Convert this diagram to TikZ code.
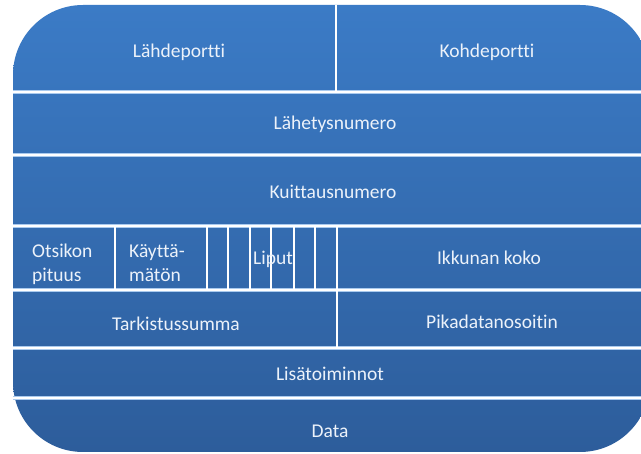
\documentclass[tikz,border=0pt]{standalone}
\usepackage{fontspec}
\setmainfont[Ligatures={NoCommon,NoRare}]{Carlito}
\definecolor{paneltop}{RGB}{59,123,198}
\definecolor{panelbottom}{RGB}{45,93,155}
\definecolor{rulerim}{RGB}{170,202,238}
\definecolor{labeltext}{RGB}{236,242,250}
\begin{document}
\begin{tikzpicture}[x=1pt,y=-1pt,
  field/.style={text=labeltext,font=\fontsize{19.5}{24}\selectfont,inner sep=0pt},
  rowrule/.style={line width=4pt,draw=rulerim},
  rowcore/.style={line width=1.6pt,draw=white},
  colrule/.style={line width=1.8pt,draw=white}]
\useasboundingbox (0,0) rectangle (641,454);
% header body
\shade[top color=paneltop,bottom color=panelbottom,rounded corners=70pt]
  (13,5) rectangle (650,452);
% row boundaries
\foreach \yy in {92,155,226,290,348,398}{
  \coordinate (l\yy) at (13,\yy);
  \coordinate (r\yy) at (641,\yy);
  \draw[rowrule] (l\yy) -- (r\yy);
  \draw[rowcore] (l\yy) -- (r\yy);
}
% column boundaries
\coordinate (pt) at (336,5);
\coordinate (pb) at (336,92);
\draw[colrule] (pt) -- (pb);
\foreach \xx in {115,207,228,250,271,294,315}{
  \coordinate (ft\xx) at (\xx,226);
  \coordinate (fb\xx) at (\xx,290);
  \draw[colrule] (ft\xx) -- (fb\xx);
}
\coordinate (wt) at (337,226);
\coordinate (wb) at (337,348);
\draw[colrule] (wt) -- (wb);
% field labels
\node[field,anchor=base] (src) at (179,58) {Lähdeportti};
\node[field,anchor=base] (dst) at (487,58) {Kohdeportti};
\node[field,anchor=base] (seq) at (335,130) {Lähetysnumero};
\node[field,anchor=base] (ack) at (333,199) {Kuittausnumero};
\node[field,anchor=base west] (hl1) at (32,258) {Otsikon};
\node[field,anchor=base west] (hl2) at (32,282) {pituus};
\node[field,anchor=base west] (rs1) at (129,258) {Käyttä-};
\node[field,anchor=base west] (rs2) at (129,282) {mätön};
\node[field,anchor=base] (flg) at (273,265) {Liput};
\node[field,anchor=base] (win) at (489,265) {Ikkunan koko};
\node[field,anchor=base] (chk) at (176,331) {Tarkistussumma};
\node[field,anchor=base] (urg) at (492,329) {Pikadatanosoitin};
\node[field,anchor=base] (opt) at (330,381) {Lisätoiminnot};
\node[field,anchor=base] (dat) at (330,438) {Data};
\end{tikzpicture}
\end{document}
